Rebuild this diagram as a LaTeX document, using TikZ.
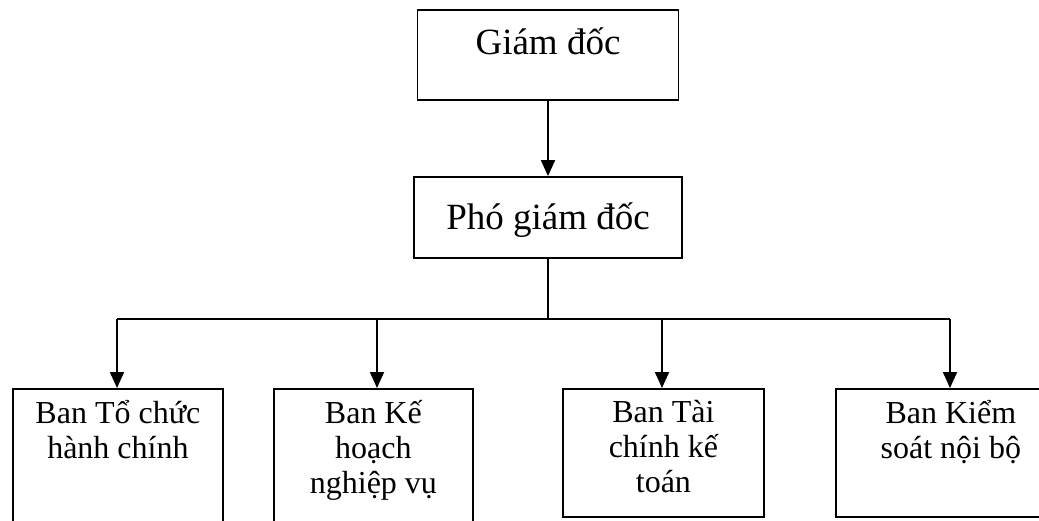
\documentclass[tikz,border=0pt]{standalone}
\usepackage{fontspec}
\setmainfont{Liberation Serif}
\usetikzlibrary{positioning, arrows.meta}

\begin{document}
\begin{tikzpicture}[x=1pt, y=-1pt, line width=1.8pt,
    headbox/.style={draw, rectangle, inner sep=0pt, font=\fontsize{37}{40}\selectfont},
    unitbox/.style={draw, rectangle, inner sep=0pt, anchor=north west},
    unitlabel/.style={align=center, inner sep=0pt, font=\fontsize{32}{35}\selectfont},
    link/.style={-{Triangle[length=16pt, width=14pt]}}]

    \useasboundingbox (0,0) rectangle (1039,521);
    \clip (0,0) rectangle (1039,521);

    % Management
    \node[headbox, minimum width=261, minimum height=90, text height=20pt, text depth=20pt] (giamdoc) at (548,55) {Giám đốc};
    \node[headbox, minimum width=268, minimum height=81, text height=30pt, text depth=5pt] (phogiamdoc) at (548,217.5) {Phó giám đốc};
    \draw[link] (giamdoc) -- (phogiamdoc);

    % Departments
    \node[unitbox, minimum width=210, minimum height=180] (tochuc) at (12,388) {};
    \node[unitbox, minimum width=199, minimum height=180] (kehoach) at (273,388) {};
    \node[unitbox, minimum width=201, minimum height=128] (taichinh) at (562,388) {};
    \node[unitbox, minimum width=230, minimum height=128] (kiemsoat) at (835,388) {};

    \node[unitlabel, below=11pt of tochuc.north] (tochuc-t) {Ban Tổ chức\\hành chính};
    \node[unitlabel, below=11pt of kehoach.north] (kehoach-t) {Ban Kế\\hoạch\\nghiệp vụ};
    \node[unitlabel, below=11pt of taichinh.north] (taichinh-t) {Ban Tài\\chính kế\\toán};
    \node[unitlabel, below=11pt of kiemsoat.north] (kiemsoat-t) {Ban Kiểm\\soát nội bộ};

    % Branch lines
    \coordinate (bus) at (548,319);
    \coordinate (j1) at (117,319);
    \coordinate (j2) at (377,319);
    \coordinate (j3) at (662,319);
    \coordinate (j4) at (950,319);
    \draw (phogiamdoc) -- (bus);
    \draw (j1) -- (j4);
    \draw[link] (j1) -- (j1 |- tochuc.north);
    \draw[link] (j2) -- (j2 |- kehoach.north);
    \draw[link] (j3) -- (j3 |- taichinh.north);
    \draw[link] (j4) -- (j4 |- kiemsoat.north);

\end{tikzpicture}
\end{document}
